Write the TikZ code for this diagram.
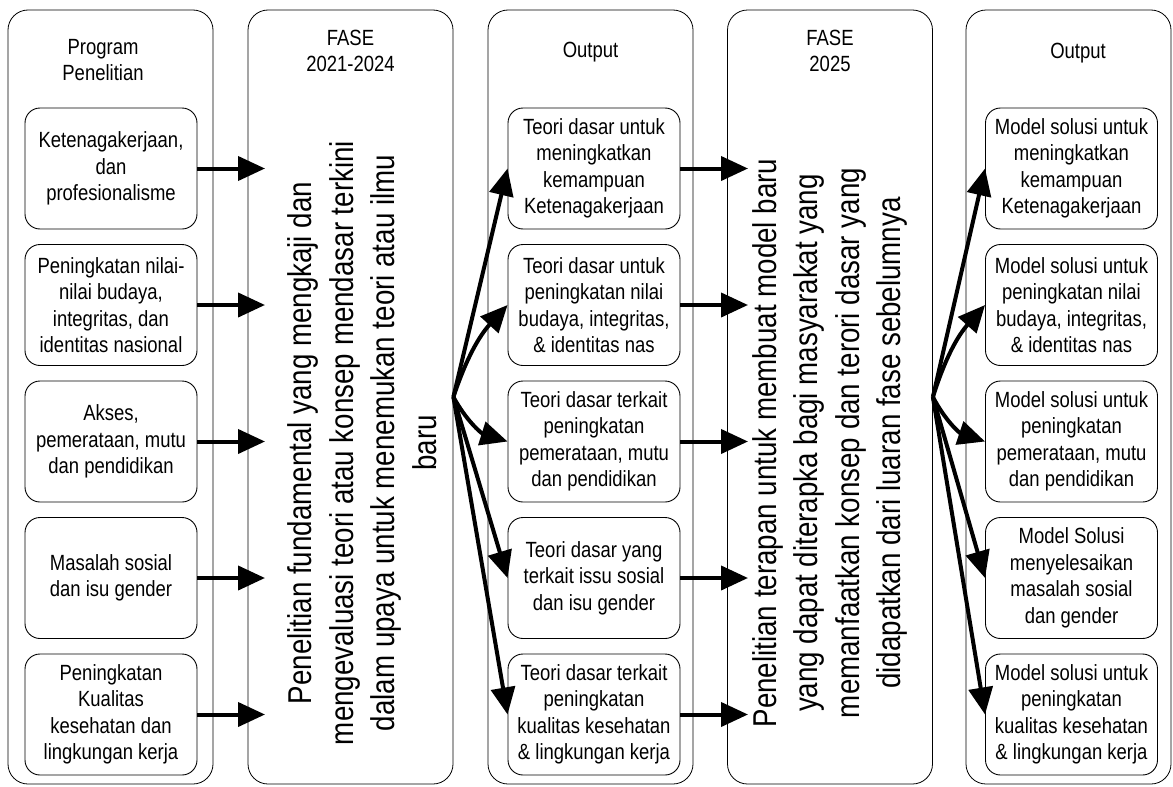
\documentclass[tikz,border=0pt]{standalone}
\usepackage{fontspec}
\setmainfont{Liberation Sans}[FakeStretch=0.84]
\usepackage{tikz}
\usetikzlibrary{arrows.meta, positioning}

\begin{document}
\begin{tikzpicture}[x=1pt,y=1pt,font=\fontsize{22}{26.5}\selectfont,
  kolom/.style={draw,rounded corners=20pt,minimum width=205pt,minimum height=774pt,line width=0.8pt},
  kotak/.style={draw,rounded corners=15pt,minimum width=172pt,minimum height=121pt,align=center,line width=0.9pt,fill=white},
  judul/.style={align=center},
  uraian/.style={rotate=90,align=center,font=\fontsize{33}{41.5}\selectfont},
  panah/.style={line width=4pt,-{Triangle[length=27pt,width=24pt]}}] % styles
   \useasboundingbox (0,0) rectangle (1173,-787);
   % five columns
   \node[kolom] (prog) at (110.5,-397) {};
   \node[kolom] (fase1) at (350.5,-397) {};
   \node[kolom] (out1) at (590.5,-397) {};
   \node[kolom] (fase2) at (830,-397) {};
   \node[kolom] (out2) at (1068.5,-397) {};
   % column titles
   \node[judul] (tprog) at (103,-60) {Program\\Penelitian};
   \node[judul] (tfase1) at (350.5,-51) {FASE\\2021-2024};
   \node[judul] (tout1) at (590.5,-52) {Output};
   \node[judul] (tfase2) at (830,-51) {FASE\\2025};
   \node[judul] (tout2) at (1078,-53) {Output};
   % phase descriptions
   \node[uraian] (desc1) at (362,-443) {Penelitian fundamental yang mengkaji dan\\mengevaluasi teori atau konsep mendasar terkini\\dalam upaya untuk menemukan teori atau ilmu\\baru};
   \node[uraian] (desc2) at (830,-443) {Penelitian terapan untuk membuat model baru\\yang dapat diterapka bagi masyarakat yang\\memanfaatkan konsep dan terori dasar yang\\didapatkan dari luaran fase sebelumnya};
   % research programs
   \foreach \i/\y/\txt in {1/168.5/{Ketenagakerjaan,\\dan\\profesionalisme},
      2/305/{Peningkatan nilai-\\nilai budaya,\\integritas, dan\\identitas nasional},
      3/441.5/{Akses,\\pemerataan, mutu\\dan pendidikan},
      4/578/{Masalah sosial\\dan isu gender},
      5/714.5/{Peningkatan\\Kualitas\\kesehatan dan\\lingkungan kerja}}
   {\node[kotak] (p\i) at (111,-\y) {\txt};}
   % outputs of the first phase
   \foreach \i/\y/\txt in {1/168.5/{Teori dasar untuk\\meningkatkan\\kemampuan\\Ketenagakerjaan},
      2/305/{Teori dasar untuk\\peningkatan nilai\\budaya, integritas,\\\& identitas nas},
      3/441.5/{Teori dasar terkait\\peningkatan\\pemerataan, mutu\\dan pendidikan},
      4/578/{Teori dasar yang\\terkait issu sosial\\dan isu gender},
      5/714.5/{Teori dasar terkait\\peningkatan\\kualitas kesehatan\\\& lingkungan kerja}}
   {\node[kotak] (o\i) at (594,-\y) {\txt};}
   % outputs of the second phase
   \foreach \i/\y/\txt in {1/168.5/{Model solusi untuk\\meningkatkan\\kemampuan\\Ketenagakerjaan},
      2/305/{Model solusi untuk\\peningkatan nilai\\budaya, integritas,\\\& identitas nas},
      3/441.5/{Model solusi untuk\\peningkatan\\pemerataan, mutu\\dan pendidikan},
      4/578/{Model Solusi\\menyelesaikan\\masalah sosial\\dan gender},
      5/714.5/{Model solusi untuk\\peningkatan\\kualitas kesehatan\\\& lingkungan kerja}}
   {\node[kotak] (m\i) at (1071.5,-\y) {\txt};}
   % arrow ends inside the phase columns
   \coordinate (tipA) at (265,0);
   \coordinate (tipB) at (748,0);
   \foreach \i in {1,...,5}
   {\draw[panah] (p\i.east) -- (p\i.east -| tipA); %program to phase
    \draw[panah] (o\i.east) -- (o\i.east -| tipB);} %output to phase
   % fan out to the outputs
   \foreach \i/\b in {1/0,2/12,3/-22,4/0,5/0}
   {\draw[panah] (fase1.east) to[bend left=\b] (o\i.west);
    \draw[panah] (fase2.east) to[bend left=\b] (m\i.west);}
  \end{tikzpicture}
\end{document}
